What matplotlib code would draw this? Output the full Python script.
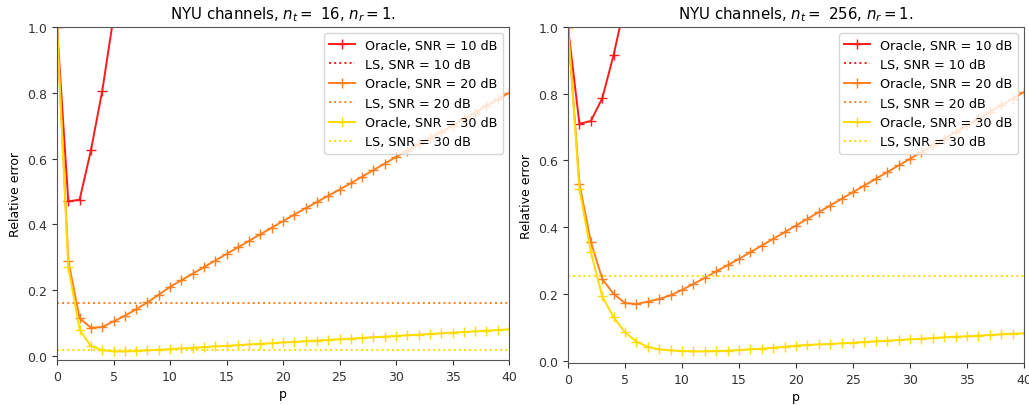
import numpy as np
import matplotlib
matplotlib.use('Agg')
import matplotlib.pyplot as plt

# p = 0 .. 40
p = list(range(41))

# 왼쪽: n_t = 16
left_oracle_10 = [1.0, 0.47, 0.475, 0.625, 0.805, 1.03, 1.28, 1.55, 1.83]
left_oracle_20 = [1.0, 0.29, 0.115, 0.086, 0.088, 0.105, 0.122, 0.142, 0.163, 0.186,
                  0.210, 0.230, 0.250, 0.270, 0.290, 0.310, 0.330, 0.350, 0.370, 0.390,
                  0.410, 0.430, 0.449, 0.468, 0.487, 0.506, 0.525, 0.545, 0.565, 0.585,
                  0.605, 0.624, 0.643, 0.662, 0.681, 0.700, 0.720, 0.740, 0.760, 0.780,
                  0.800]
left_oracle_30 = [1.0, 0.27, 0.080, 0.030, 0.018, 0.014, 0.014, 0.015, 0.017, 0.019,
                  0.021, 0.023, 0.025, 0.027, 0.029, 0.031, 0.033, 0.035, 0.037, 0.039,
                  0.041, 0.043, 0.045, 0.047, 0.049, 0.051, 0.053, 0.055, 0.057, 0.059,
                  0.061, 0.063, 0.065, 0.067, 0.069, 0.071, 0.073, 0.075, 0.077, 0.079,
                  0.081]
left_ls = [1.6, 0.16, 0.018]

# 오른쪽: n_t = 256
right_oracle_10 = [1.0, 0.71, 0.718, 0.786, 0.916, 1.07, 1.24, 1.42]
right_oracle_20 = [1.0, 0.53, 0.357, 0.245, 0.200, 0.173, 0.170, 0.177, 0.185, 0.196,
                   0.212, 0.230, 0.248, 0.268, 0.286, 0.305, 0.325, 0.345, 0.365, 0.385,
                   0.405, 0.425, 0.445, 0.465, 0.485, 0.505, 0.525, 0.545, 0.565, 0.585,
                   0.605, 0.625, 0.645, 0.665, 0.685, 0.705, 0.725, 0.745, 0.765, 0.785,
                   0.805]
right_oracle_30 = [1.0, 0.515, 0.326, 0.193, 0.130, 0.085, 0.057, 0.042, 0.034, 0.031,
                   0.029, 0.028, 0.028, 0.029, 0.030, 0.032, 0.034, 0.036, 0.039, 0.042,
                   0.045, 0.047, 0.049, 0.050, 0.052, 0.054, 0.056, 0.058, 0.060, 0.062,
                   0.064, 0.066, 0.068, 0.070, 0.072, 0.073, 0.075, 0.077, 0.079, 0.081,
                   0.082]
right_ls = [2.5, 1.2, 0.255]

snrs = [10, 20, 30]
colors = ['#ff1a1a', '#ff7f1e', '#ffdc00']

# 원본이 축소된 스크린샷이라 글자/선을 약간 작게
plt.rcParams['font.size'] = 9
plt.rcParams['axes.edgecolor'] = '#555555'
plt.rcParams['xtick.color'] = '#333333'
plt.rcParams['ytick.color'] = '#333333'

fig = plt.figure(figsize=(10.29, 4.06), dpi=100)
ax1 = fig.add_axes([0.0554, 0.111, 0.4393, 0.820])
ax2 = fig.add_axes([0.552, 0.1034, 0.4431, 0.8276])

panels = [
    (ax1, 16, [left_oracle_10, left_oracle_20, left_oracle_30], left_ls, -0.012),
    (ax2, 256, [right_oracle_10, right_oracle_20, right_oracle_30], right_ls, -0.007),
]

for ax, nt, oracles, ls, ybot in panels:
    for snr, c, orc, lsv in zip(snrs, colors, oracles, ls):
        ax.plot(p[:len(orc)], orc, color=c, marker='+', markersize=6.5, lw=1.4,
                label=f'Oracle, SNR = {snr} dB')
        ax.plot(p, [lsv] * len(p), color=c, ls=':', lw=1.4,
                label=f'LS, SNR = {snr} dB')
    ax.set_xlim(0, 40)
    ax.set_ylim(ybot, 1.0)
    ax.set_xticks(range(0, 41, 5))
    ax.set_yticks([0.0, 0.2, 0.4, 0.6, 0.8, 1.0])
    ax.set_xlabel('p', labelpad=3)
    ax.set_ylabel('Relative error')
    ax.set_title(rf'NYU channels, $n_t =$ {nt}, $n_r = 1$.', fontsize=10.8)
    ax.legend(loc='upper right', fontsize=9.2)

fig.savefig('out.png', dpi=100)
